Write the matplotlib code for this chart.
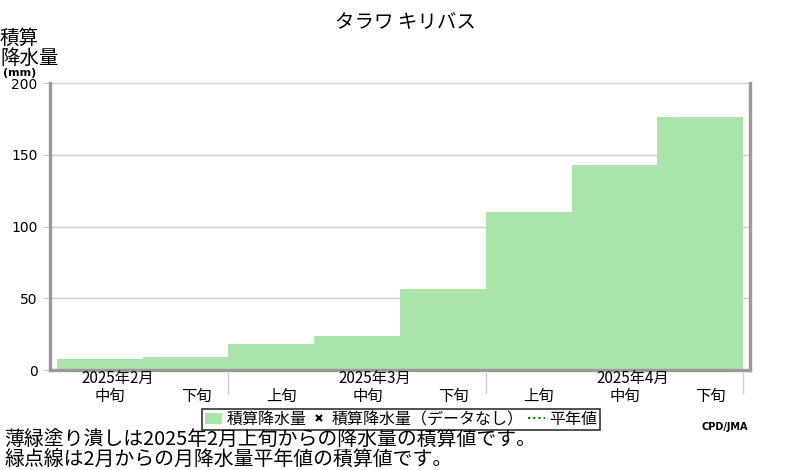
import matplotlib
matplotlib.use("Agg")
import matplotlib.pyplot as plt
from matplotlib.patches import Patch
from matplotlib.lines import Line2D
from matplotlib.transforms import blended_transform_factory

plt.rcParams["font.family"] = ["Noto Sans CJK JP", "DejaVu Sans"]

# -------------------------
# Data
# -------------------------
title = "タラワ キリバス"
dekad_labels = ["中旬", "下旬", "上旬", "中旬", "下旬", "上旬", "中旬", "下旬"]
month_labels = ["2025年2月", "2025年3月", "2025年4月"]
month_label_pos = [0, 3, 6]        # dekad index under which each month label sits
month_bounds = [2, 5, 8]           # separators between months
precip_cum = [7.7, 9.1, 18.1, 23.7, 56.5, 110.2, 143.0, 176.5]
yticks = [0, 50, 100, 150, 200]

BAR_GREEN = "#abe4aa"
FRAME = "#999999"
GRID = "#cccccc"

W, H = 800, 470
fig = plt.figure(figsize=(8, 4.7), dpi=100)
ax = fig.add_axes([50 / W, 1 - 370 / H, 700 / W, (370 - 83.3) / H])

x = list(range(len(precip_cum)))
ax.bar(x, precip_cum, width=1.0, align="edge", color=BAR_GREEN, zorder=2)

ax.set_xlim(-0.0816, len(precip_cum) + 0.0816)
ax.set_ylim(0, 200)
ax.set_yticks(yticks)
ax.set_yticklabels([str(v) for v in yticks], fontsize=10, family="DejaVu Sans")
ax.tick_params(axis="y", length=5, color=GRID, pad=4)
ax.set_xticks([])
ax.grid(axis="y", color=GRID, lw=1, zorder=0)
ax.set_axisbelow(True)

for s in ["left", "bottom", "right"]:
    ax.spines[s].set_color(FRAME)
    ax.spines[s].set_linewidth(2.4)
ax.spines["top"].set_visible(False)

# month separators and labels below the axis
tr = blended_transform_factory(ax.transData, ax.transAxes)
for b in month_bounds:
    ax.plot([b, b], [-0.0105, -0.080], color=GRID, lw=1, transform=tr, clip_on=False)
for i, lab in enumerate(dekad_labels):
    ax.text(i + 0.62, -0.094, lab, transform=tr, ha="center", va="center", fontsize=11)
for i, lab in zip(month_label_pos, month_labels):
    ax.text(i + 0.71, -0.031, lab, transform=tr, ha="center", va="center", fontsize=11)

# title and y label
fig.text(405 / W, 1 - 22 / H, title, ha="center", va="center", fontsize=14)
fig.text(0, 1 - 48 / H, "積算\n降水量", ha="left", va="center", fontsize=14,
         linespacing=0.95)
fig.text(3 / W, 1 - 72.5 / H, "(mm)", ha="left", va="center", fontsize=8,
         fontweight="bold", family="DejaVu Sans")

# legend
handles = [
    Patch(facecolor=BAR_GREEN, edgecolor="none"),
    Line2D([], [], color="black", marker="x", linestyle="none", markersize=5, mew=1.5),
    Line2D([], [], color="green", linestyle=(0, (1, 1.5)), lw=1.5),
]
labels = ["積算降水量", "積算降水量（データなし）", "平年値"]
leg = fig.legend(handles, labels, loc="center", bbox_to_anchor=(401 / W, 1 - 419.5 / H),
                 ncol=3, fontsize=11.5, frameon=True, fancybox=False,
                 handlelength=1.1, handletextpad=0.25, columnspacing=0.25,
                 borderpad=0.15, borderaxespad=0)
leg.get_frame().set_edgecolor("black")
leg.get_frame().set_linewidth(1.2)

fig.text(748 / W, 1 - 427 / H, "CPD/JMA", ha="right", va="center", fontsize=7,
         fontweight="bold", family="DejaVu Sans")

# notes
notes = ("薄緑塗り潰しは2025年2月上旬からの降水量の積算値です。\n"
         "緑点線は2月からの月降水量平年値の積算値です。")
fig.text(4 / W, 1 - 450 / H, notes, ha="left", va="center", fontsize=14.3,
         linespacing=0.9)

fig.savefig("out.png", dpi=100)
